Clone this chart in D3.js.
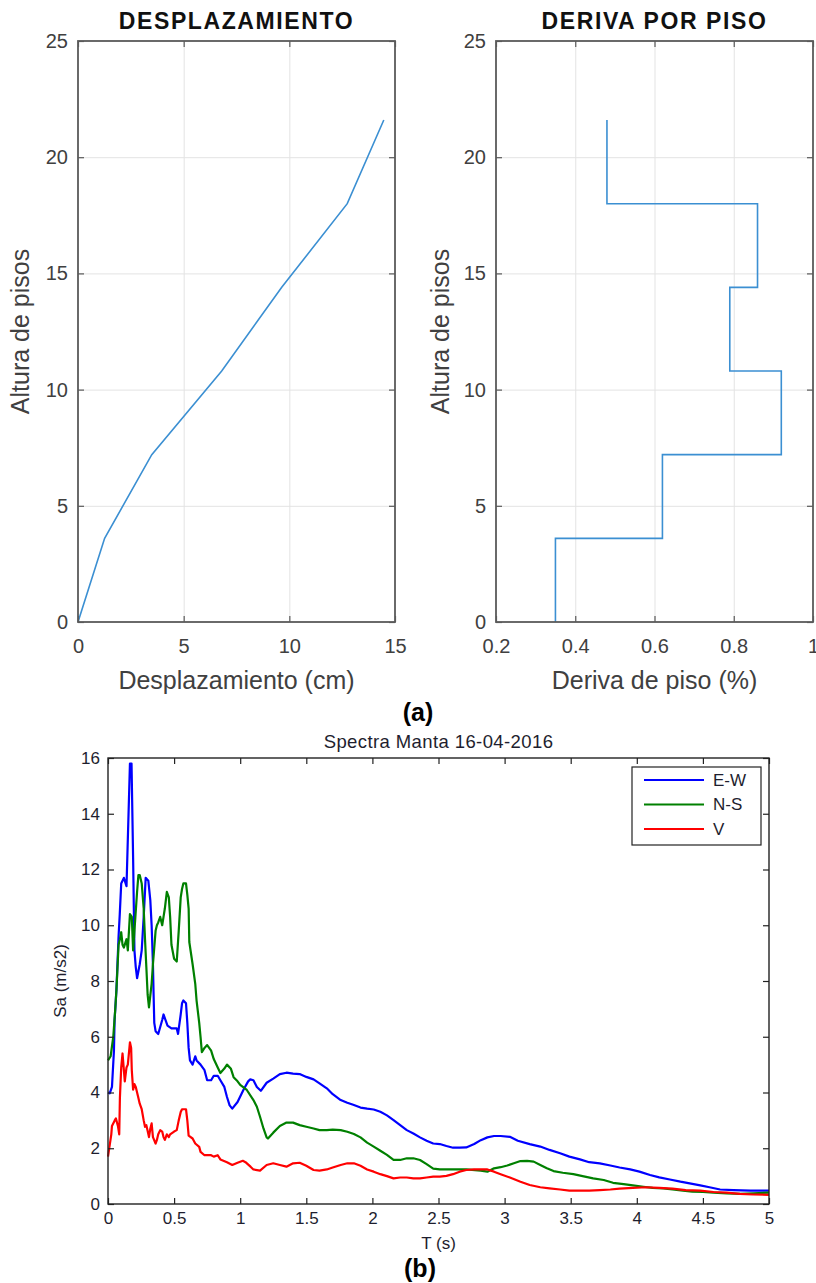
<!DOCTYPE html>
<html>
  <head>
    <meta charset="utf-8">
    <title>Desplazamiento, deriva y espectros</title>
    <script src="https://d3js.org/d3.v7.min.js"></script>
    <style>
      body { margin: 0; background: #fff; }
      svg { display: block; font-family: "Liberation Sans", Arial, sans-serif; }
      .grid line { stroke: #e3e3e3; stroke-width: 1; }
      .grid path { display: none; }
      .profileAxis path { display: none; }
      .profileAxis line { stroke: #5a5a5a; stroke-width: 1.2; }
      .profileAxis text { fill: #404040; font-size: 20px; }
      .profileBox { fill: none; stroke: #5a5a5a; stroke-width: 1.8; }
      .spectraAxis path { display: none; }
      .spectraAxis line { stroke: #222; stroke-width: 1.2; }
      .spectraAxis text { fill: #1e1e2e; font-size: 17px; }
      .spectraBox { fill: none; stroke: #222; stroke-width: 1.4; }
    </style>
  </head>
  <body>
    <svg id="figure" width="816" height="1283"></svg>
    <script>
      // story heights (m) and profile values
      storyHeights = [0, 3.6, 7.2, 10.8, 14.4, 18, 21.6];
      displacements = [0, 1.26, 3.49, 6.8, 9.64, 12.74, 14.47];
      storyDrifts = [0.35, 0.62, 0.92, 0.79, 0.86, 0.48];
      heightTicks = [0, 5, 10, 15, 20, 25];
      displacementTicks = [0, 5, 10, 15];
      driftTicks = [0.2, 0.4, 0.6, 0.8, 1];

      // spectra Manta 16-04-2016, [T (s), Sa (m/s2)]
      spectrumEW = [[0,4.0],[0.013,3.97],[0.03,4.2],[0.045,5.5],[0.05,6.6],[0.064,7.7],[0.08,9.6],[0.089,10.4],[0.1,11.5],[0.12,11.7],[0.14,11.4],[0.153,13.6],[0.166,15.8],[0.178,15.8],[0.19,12.4],[0.2,9.1],[0.21,8.5],[0.22,8.1],[0.24,8.6],[0.255,9.1],[0.27,10.3],[0.285,11.7],[0.305,11.6],[0.32,10.9],[0.33,10.0],[0.34,8.6],[0.345,7.5],[0.35,6.5],[0.36,6.2],[0.38,6.1],[0.41,6.6],[0.42,6.8],[0.45,6.4],[0.48,6.3],[0.52,6.3],[0.53,6.1],[0.55,6.8],[0.56,7.2],[0.57,7.3],[0.59,7.2],[0.6,6.5],[0.61,5.6],[0.62,5.15],[0.64,5.0],[0.66,5.3],[0.67,5.15],[0.7,5.0],[0.73,4.8],[0.75,4.44],[0.78,4.44],[0.8,4.6],[0.83,4.6],[0.85,4.44],[0.88,4.2],[0.9,3.84],[0.92,3.54],[0.94,3.42],[0.98,3.66],[1.025,4.1],[1.06,4.4],[1.076,4.47],[1.1,4.44],[1.126,4.2],[1.156,4.06],[1.2,4.35],[1.25,4.5],[1.3,4.66],[1.35,4.71],[1.4,4.68],[1.45,4.66],[1.5,4.56],[1.555,4.47],[1.6,4.33],[1.655,4.15],[1.7,3.94],[1.76,3.73],[1.81,3.63],[1.86,3.55],[1.91,3.46],[1.96,3.42],[2.01,3.39],[2.06,3.31],[2.11,3.18],[2.16,3.01],[2.21,2.83],[2.26,2.65],[2.31,2.53],[2.36,2.39],[2.41,2.27],[2.46,2.17],[2.51,2.15],[2.56,2.08],[2.61,2.02],[2.66,2.02],[2.71,2.03],[2.77,2.15],[2.82,2.29],[2.87,2.39],[2.92,2.44],[2.97,2.44],[3.04,2.41],[3.1,2.27],[3.19,2.15],[3.27,2.06],[3.34,1.94],[3.42,1.82],[3.49,1.7],[3.57,1.6],[3.64,1.5],[3.72,1.46],[3.8,1.38],[3.87,1.31],[3.95,1.24],[4.02,1.16],[4.1,1.04],[4.17,0.955],[4.25,0.88],[4.33,0.8],[4.4,0.74],[4.48,0.67],[4.55,0.6],[4.63,0.52],[4.73,0.5],[4.86,0.48],[5.0,0.48]];
      spectrumNS = [[0,5.15],[0.02,5.3],[0.04,6.0],[0.055,7.0],[0.064,7.7],[0.08,9.3],[0.09,9.5],[0.1,9.75],[0.11,9.3],[0.12,9.2],[0.14,9.5],[0.15,9.1],[0.166,10.4],[0.18,10.3],[0.19,9.1],[0.2,9.8],[0.22,11.2],[0.23,11.8],[0.24,11.8],[0.255,11.5],[0.27,10.6],[0.28,9.5],[0.29,8.5],[0.3,7.5],[0.31,7.05],[0.33,7.9],[0.34,8.6],[0.36,9.8],[0.37,10.0],[0.38,10.1],[0.395,10.3],[0.41,10.0],[0.42,10.3],[0.43,10.6],[0.445,11.2],[0.46,11.0],[0.47,10.3],[0.48,9.3],[0.5,8.8],[0.52,8.7],[0.535,9.8],[0.55,11.0],[0.56,11.3],[0.57,11.5],[0.59,11.5],[0.6,11.1],[0.61,10.6],[0.615,9.4],[0.64,8.6],[0.66,7.9],[0.67,7.3],[0.69,6.5],[0.7,6.0],[0.71,5.45],[0.73,5.6],[0.75,5.7],[0.78,5.5],[0.8,5.2],[0.83,4.9],[0.85,4.7],[0.88,4.86],[0.9,5.0],[0.93,4.85],[0.95,4.55],[0.98,4.4],[1.0,4.27],[1.05,4.09],[1.1,3.73],[1.126,3.49],[1.15,3.13],[1.176,2.71],[1.2,2.39],[1.21,2.35],[1.25,2.56],[1.3,2.8],[1.35,2.92],[1.4,2.92],[1.45,2.83],[1.5,2.77],[1.555,2.71],[1.6,2.65],[1.655,2.65],[1.7,2.67],[1.76,2.65],[1.81,2.59],[1.86,2.51],[1.91,2.39],[1.96,2.2],[2.01,2.06],[2.06,1.91],[2.11,1.76],[2.16,1.58],[2.21,1.58],[2.26,1.64],[2.31,1.64],[2.36,1.58],[2.41,1.43],[2.46,1.27],[2.51,1.24],[2.61,1.24],[2.71,1.24],[2.82,1.2],[2.87,1.16],[2.92,1.28],[2.97,1.32],[3.02,1.38],[3.07,1.46],[3.12,1.54],[3.17,1.55],[3.22,1.52],[3.27,1.4],[3.32,1.28],[3.37,1.18],[3.44,1.12],[3.52,1.07],[3.59,1.0],[3.67,0.92],[3.75,0.86],[3.82,0.76],[3.9,0.71],[3.97,0.67],[4.05,0.62],[4.12,0.58],[4.2,0.56],[4.27,0.52],[4.35,0.48],[4.42,0.44],[4.5,0.43],[4.58,0.41],[4.68,0.38],[4.78,0.36],[4.88,0.38],[5.0,0.41]];
      spectrumV = [[0,1.7],[0.025,2.5],[0.03,2.8],[0.05,2.99],[0.06,3.07],[0.075,2.8],[0.085,2.5],[0.09,3.8],[0.1,4.9],[0.11,5.4],[0.127,4.4],[0.14,4.9],[0.15,5.0],[0.166,5.8],[0.175,5.6],[0.18,4.8],[0.19,4.1],[0.2,4.3],[0.21,4.2],[0.23,3.8],[0.24,3.6],[0.255,3.4],[0.27,3.0],[0.28,2.77],[0.29,2.83],[0.31,2.4],[0.32,2.7],[0.33,2.89],[0.34,2.4],[0.36,2.17],[0.37,2.3],[0.38,2.5],[0.395,2.65],[0.41,2.6],[0.42,2.4],[0.43,2.3],[0.445,2.5],[0.46,2.4],[0.47,2.5],[0.5,2.6],[0.52,2.65],[0.535,3.0],[0.55,3.3],[0.56,3.4],[0.59,3.4],[0.6,3.0],[0.61,2.45],[0.64,2.35],[0.66,2.17],[0.69,2.05],[0.7,1.87],[0.73,1.75],[0.78,1.75],[0.8,1.7],[0.83,1.75],[0.85,1.6],[0.9,1.5],[0.94,1.4],[0.98,1.48],[1.02,1.55],[1.04,1.5],[1.08,1.33],[1.1,1.24],[1.15,1.2],[1.2,1.4],[1.25,1.46],[1.3,1.4],[1.35,1.34],[1.4,1.46],[1.45,1.48],[1.5,1.37],[1.555,1.22],[1.6,1.2],[1.655,1.24],[1.7,1.31],[1.76,1.4],[1.81,1.46],[1.86,1.46],[1.91,1.37],[1.96,1.24],[2.01,1.16],[2.06,1.07],[2.11,1.0],[2.16,0.92],[2.21,0.95],[2.26,0.95],[2.31,0.92],[2.36,0.92],[2.41,0.95],[2.46,0.98],[2.51,0.98],[2.56,1.01],[2.61,1.07],[2.66,1.16],[2.71,1.22],[2.77,1.24],[2.87,1.24],[2.92,1.16],[2.97,1.07],[3.04,0.95],[3.12,0.8],[3.19,0.68],[3.27,0.6],[3.34,0.56],[3.42,0.52],[3.49,0.48],[3.64,0.48],[3.72,0.5],[3.8,0.52],[3.87,0.55],[3.97,0.58],[4.07,0.6],[4.17,0.58],[4.27,0.55],[4.37,0.5],[4.48,0.48],[4.58,0.43],[4.68,0.41],[4.78,0.36],[4.88,0.34],[5.0,0.33]];
      spectraNames = ["E-W", "N-S", "V"];
      spectraColours = ["#0000ff", "#008000", "#ff0000"];
      periodTicks = [0, 0.5, 1, 1.5, 2, 2.5, 3, 3.5, 4, 4.5, 5];
      saTicks = [0, 2, 4, 6, 8, 10, 12, 14, 16];

      figure = d3.select("#figure");
      figure.append("rect").attr("width", 816).attr("height", 1283).attr("fill", "#fff");

      // (a) profile charts
      function drawProfile(box, xDomain, xTicks, points, title, xLabel) {
        x = d3.scaleLinear().domain(xDomain).range([box.left, box.right]);
        y = d3.scaleLinear().domain([0, 25]).range([box.bottom, box.top]);
        g = figure.append("g");
        // grid
        g.append("g")
          .attr("class", "grid")
          .attr("transform", "translate(0," + box.bottom + ")")
          .call(d3.axisBottom(x).tickValues(xTicks.slice(1, -1)).tickSize(box.top - box.bottom).tickFormat(""));
        g.append("g")
          .attr("class", "grid")
          .attr("transform", "translate(" + box.left + ",0)")
          .call(d3.axisLeft(y).tickValues(heightTicks.slice(1, -1)).tickSize(box.left - box.right).tickFormat(""));
        // data
        g.append("path")
          .datum(points)
          .attr("fill", "none")
          .attr("stroke", "#3b8fd2")
          .attr("stroke-width", 1.6)
          .attr("d", d3.line()
            .x(function(d) { return x(d[0]); })
            .y(function(d) { return y(d[1]); }));
        // axes, ticks pointing in on every side
        g.append("g")
          .attr("class", "profileAxis")
          .attr("transform", "translate(0," + box.bottom + ")")
          .call(d3.axisBottom(x).tickValues(xTicks).tickSizeInner(-6).tickSizeOuter(0).tickPadding(17).tickFormat(d3.format("")));
        g.append("g")
          .attr("class", "profileAxis")
          .attr("transform", "translate(0," + box.top + ")")
          .call(d3.axisTop(x).tickValues(xTicks).tickSizeInner(-6).tickSizeOuter(0).tickFormat(""));
        g.append("g")
          .attr("class", "profileAxis")
          .attr("transform", "translate(" + box.left + ",0)")
          .call(d3.axisLeft(y).tickValues(heightTicks).tickSizeInner(-6).tickSizeOuter(0).tickPadding(10));
        g.append("g")
          .attr("class", "profileAxis")
          .attr("transform", "translate(" + box.right + ",0)")
          .call(d3.axisRight(y).tickValues(heightTicks).tickSizeInner(-6).tickSizeOuter(0).tickFormat(""));
        g.append("rect")
          .attr("class", "profileBox")
          .attr("x", box.left)
          .attr("y", box.top)
          .attr("width", box.right - box.left)
          .attr("height", box.bottom - box.top);
        // labels
        g.append("text")
          .attr("x", (box.left + box.right) / 2)
          .attr("y", 29)
          .attr("text-anchor", "middle")
          .attr("font-size", 23)
          .attr("font-weight", "bold")
          .attr("letter-spacing", 1.6)
          .attr("fill", "#111")
          .text(title);
        g.append("text")
          .attr("x", (box.left + box.right) / 2)
          .attr("y", 689)
          .attr("text-anchor", "middle")
          .attr("font-size", 25)
          .attr("fill", "#404040")
          .text(xLabel);
        g.append("text")
          .attr("transform", "translate(" + box.yLabel + "," + (box.top + box.bottom) / 2 + ") rotate(-90)")
          .attr("text-anchor", "middle")
          .attr("font-size", 25)
          .attr("fill", "#404040")
          .text("Altura de pisos");
      }

      displacementPoints = storyHeights.map(function(h, i) { return [displacements[i], h]; });
      driftPoints = [];
      storyDrifts.forEach(function(d, i) {
        driftPoints.push([d, storyHeights[i]]);
        driftPoints.push([d, storyHeights[i + 1]]);
      });

      drawProfile({ left: 78, right: 395, top: 41, bottom: 622, yLabel: 29 }, [0, 15], displacementTicks,
        displacementPoints, "DESPLAZAMIENTO", "Desplazamiento (cm)");
      drawProfile({ left: 496, right: 813, top: 41, bottom: 622, yLabel: 449 }, [0.2, 1], driftTicks,
        driftPoints, "DERIVA POR PISO", "Deriva de piso (%)");

      figure.append("text")
        .attr("x", 418).attr("y", 721)
        .attr("text-anchor", "middle")
        .attr("font-size", 25).attr("font-weight", "bold")
        .text("(a)");

      // (b) spectra chart
      sBox = { left: 108, right: 769, top: 758, bottom: 1204 };
      xT = d3.scaleLinear().domain([0, 5]).range([sBox.left, sBox.right]);
      ySa = d3.scaleLinear().domain([0, 16]).range([sBox.bottom, sBox.top]);
      spectra = figure.append("g");
      spectraLine = d3.line()
        .x(function(d) { return xT(d[0]); })
        .y(function(d) { return ySa(d[1]); });
      [spectrumEW, spectrumNS, spectrumV].forEach(function(series, i) {
        spectra.append("path")
          .datum(series)
          .attr("fill", "none")
          .attr("stroke", spectraColours[i])
          .attr("stroke-width", 2.2)
          .attr("stroke-linejoin", "round")
          .attr("d", spectraLine);
      });
      spectra.append("g")
        .attr("class", "spectraAxis")
        .attr("transform", "translate(0," + sBox.bottom + ")")
        .call(d3.axisBottom(xT).tickValues(periodTicks).tickSizeInner(-6).tickSizeOuter(0).tickPadding(8).tickFormat(d3.format("")));
      spectra.append("g")
        .attr("class", "spectraAxis")
        .attr("transform", "translate(0," + sBox.top + ")")
        .call(d3.axisTop(xT).tickValues(periodTicks).tickSizeInner(-6).tickSizeOuter(0).tickFormat(""));
      spectra.append("g")
        .attr("class", "spectraAxis")
        .attr("transform", "translate(" + sBox.left + ",0)")
        .call(d3.axisLeft(ySa).tickValues(saTicks).tickSizeInner(-6).tickSizeOuter(0).tickPadding(8));
      spectra.append("g")
        .attr("class", "spectraAxis")
        .attr("transform", "translate(" + sBox.right + ",0)")
        .call(d3.axisRight(ySa).tickValues(saTicks).tickSizeInner(-6).tickSizeOuter(0).tickFormat(""));
      spectra.append("rect")
        .attr("class", "spectraBox")
        .attr("x", sBox.left).attr("y", sBox.top)
        .attr("width", sBox.right - sBox.left).attr("height", sBox.bottom - sBox.top);
      spectra.append("text")
        .attr("x", (sBox.left + sBox.right) / 2).attr("y", 748)
        .attr("text-anchor", "middle")
        .attr("font-size", 18.5).attr("letter-spacing", 0.4).attr("fill", "#1e1e2e")
        .text("Spectra Manta 16-04-2016");
      spectra.append("text")
        .attr("x", (sBox.left + sBox.right) / 2).attr("y", 1249)
        .attr("text-anchor", "middle")
        .attr("font-size", 17).attr("fill", "#1e1e2e")
        .text("T (s)");
      spectra.append("text")
        .attr("transform", "translate(66," + (sBox.top + sBox.bottom) / 2 + ") rotate(-90)")
        .attr("text-anchor", "middle")
        .attr("font-size", 17).attr("fill", "#1e1e2e")
        .text("Sa (m/s2)");

      // legend
      legend = spectra.append("g").attr("transform", "translate(632,767)");
      legend.append("rect")
        .attr("width", 129).attr("height", 78)
        .attr("fill", "#fff").attr("stroke", "#222").attr("stroke-width", 1.2);
      legendRows = legend.selectAll(".legendRow")
        .data(spectraNames)
        .enter().append("g")
          .attr("class", "legendRow")
          .attr("transform", function(d, i) { return "translate(0," + (13 + i * 24.5) + ")"; });
      legendRows.append("line")
        .attr("x1", 12).attr("x2", 72)
        .attr("stroke", function(d, i) { return spectraColours[i]; })
        .attr("stroke-width", 2.2);
      legendRows.append("text")
        .attr("x", 81).attr("dy", "0.35em")
        .attr("font-size", 17).attr("fill", "#1e1e2e")
        .text(function(d) { return d; });

      figure.append("text")
        .attr("x", 420).attr("y", 1277)
        .attr("text-anchor", "middle")
        .attr("font-size", 25).attr("font-weight", "bold")
        .text("(b)");
    </script>
  </body>
</html>
